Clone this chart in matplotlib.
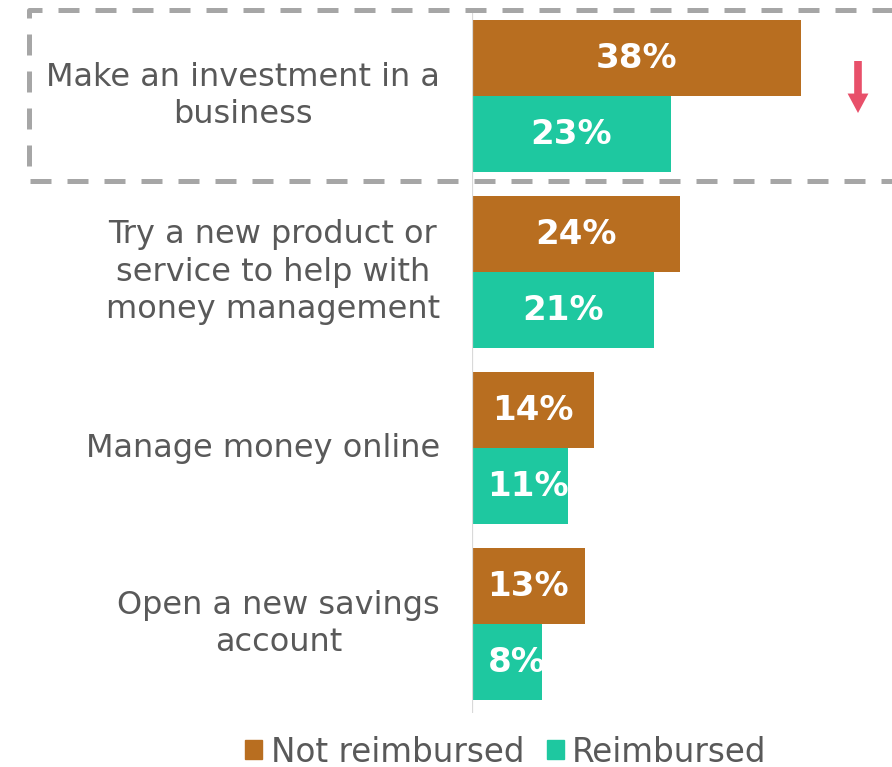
import numpy as np
import matplotlib
matplotlib.use("Agg")
import matplotlib.pyplot as plt
from matplotlib.lines import Line2D
from matplotlib.patches import Patch

# survey results, share of respondents (%)
categories = [
    "Make an investment in a\nbusiness",
    "Try a new product or\nservice to help with\nmoney management",
    "Manage money online",
    "Open a new savings\naccount",
]
not_reimbursed = [38, 24, 14, 13]
reimbursed = [23, 21, 11, 8]
series_names = ["Not reimbursed", "Reimbursed"]

BROWN = "#B86E20"
TEAL = "#1EC8A0"
GREY_TEXT = "#595959"
ARROW_RED = "#E8506A"

W, H = 892, 767
fig = plt.figure(figsize=(W / 100, H / 100), dpi=100)
# axes spans from the baseline at x=472px to the right edge
ax = fig.add_axes([472 / W, (H - 713) / H, 1 - 472 / W, 700 / H])
ax.patch.set_visible(False)

y = np.arange(len(categories))
bar_h = 76 / 176
ax.barh(y - bar_h / 2, not_reimbursed, height=bar_h, color=BROWN, left=0.1)
ax.barh(y + bar_h / 2, reimbursed, height=bar_h, color=TEAL, left=0.1)

ax.set_xlim(0, 420 / 8.632)
ax.set_ylim(3 + 89 / 176, -83 / 176)

# value labels inside bars
for vals, off in ((not_reimbursed, -bar_h / 2), (reimbursed, bar_h / 2)):
    for i, v in enumerate(vals):
        if v >= 13:
            ax.text(v / 2, i + off, f"{v}%", ha="center", va="center",
                    color="white", fontsize=24.5, fontweight="bold")
        else:
            ax.text(1.8, i + off, f"{v}%", ha="left", va="center",
                    color="white", fontsize=24.5, fontweight="bold",
                    clip_on=False)

# category labels to the left of the baseline
for i, c in enumerate(categories):
    ax.text(-32 / 8.632, i, c, ha="right", va="center", ma="center",
            fontsize=23, color=GREY_TEXT, linespacing=1.28)

for s in ax.spines.values():
    s.set_visible(False)
ax.axvline(0, color="#D9D9D9", lw=1.6)
ax.set_xticks([])
ax.set_yticks([])

# dashed highlight box round the first category
bx = [1.05, 29 / W, 29 / W, 1.05]
by = [(H - 10) / H, (H - 10) / H, (H - 180.5) / H, (H - 180.5) / H]
fig.add_artist(Line2D(bx, by, transform=fig.transFigure, color="#A6A6A6",
                      lw=3.6, linestyle=(0, (4.2, 3.2)), zorder=0))

# downward arrow
ax.annotate("", xy=(858, H - 113), xytext=(858, H - 61),
            xycoords="figure pixels", textcoords="figure pixels",
            arrowprops=dict(width=5.5, headwidth=15, headlength=14,
                            shrink=0, color=ARROW_RED, lw=0))

handles = [Patch(color=BROWN), Patch(color=TEAL)]
fig.legend(handles, series_names, loc="center", bbox_to_anchor=(506 / W, 15 / H),
           ncol=2, frameon=False, fontsize=23.5, labelcolor=GREY_TEXT,
           handlelength=0.52, handleheight=0.52, handletextpad=0.25,
           columnspacing=0.7, borderpad=0)

fig.savefig("out.png", dpi=100)
